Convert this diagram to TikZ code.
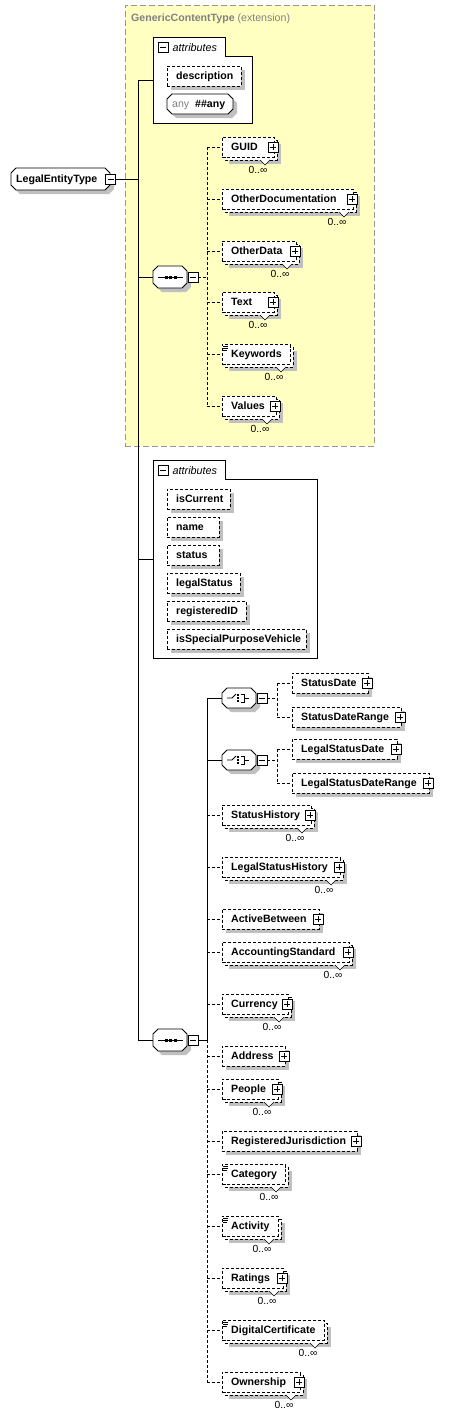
\documentclass[tikz,border=0pt]{standalone}
\usepackage{fontspec}
\setmainfont{Liberation Sans}
\definecolor{shdc}{RGB}{192,192,192}
\definecolor{ylw}{RGB}{255,255,194}
\definecolor{gbord}{RGB}{150,150,150}
\definecolor{gtxt}{RGB}{128,128,128}
\tikzset{
  dsh/.style={dash pattern=on 3pt off 2pt},
  conn/.style={line width=0.8pt, draw=black},
  dconn/.style={conn, dsh},
  ebox/.style={draw=black, line width=0.7pt, dsh, fill=white, minimum height=20pt, inner sep=0pt, outer sep=0pt, anchor=west},
  bkbox/.style={draw=black, line width=0.7pt, dsh, fill=white},
  etxt/.style={font=\fontsize{10.6}{12}\selectfont\bfseries, inner sep=0pt, anchor=base west},
  occlbl/.style={font=\fontsize{10.3}{12}\selectfont, inner sep=0pt, anchor=base},
  mbox/.style={draw=black, fill=white, line width=0.6pt, minimum size=10pt, inner sep=0pt, outer sep=0pt,
    path picture={\draw[line width=0.7pt] ([xshift=2pt]path picture bounding box.west) -- ([xshift=-2pt]path picture bounding box.east);}},
  pbox/.style={draw=black, fill=white, line width=0.6pt, minimum size=10pt, inner sep=0pt, outer sep=0pt,
    path picture={\draw[line width=0.7pt] ([xshift=2pt]path picture bounding box.west) -- ([xshift=-2pt]path picture bounding box.east) ([yshift=-2pt]path picture bounding box.north) -- ([yshift=2pt]path picture bounding box.south);}},
  ghost/.style={inner sep=0pt, outer sep=0pt, anchor=west},
}
% single element: name, x, y, width, label
\newcommand\elS[5]{%
  \fill[shdc] (#2+4,#3-6) rectangle (#2+#4+4,#3+14);
  \node[ebox, minimum width=#4] (#1) at (#2,#3) {};
  \node[etxt] (#1t) at (#2+9,#3+3.8) {#5};}
% multiple element
\newcommand\elM[5]{%
  \fill[shdc] (#2+7,#3-3) rectangle (#2+#4+7,#3+17);
  \path[bkbox] (#2+3,#3-7) rectangle (#2+#4+3,#3+13);
  \filldraw[fill=white, draw=black, line width=0.6pt] (#2+#4-14,#3+13) -- (#2+#4-9,#3+18) -- (#2+#4-4,#3+13);
  \node[ebox, minimum width=#4] (#1) at (#2,#3) {};
  \node[etxt] (#1t) at (#2+9,#3+3.8) {#5};
  \node[occlbl] (#1o) at (#2+#4-16,#3+26) {0..∞};}
\newcommand\plusof[1]{\node[pbox] (#1p) at ([xshift=-1pt]#1.east) {};}
\newcommand\sicon[1]{%
  \fill[white] ([shift={(0.5pt,-0.5pt)}]#1.north west) rectangle ([shift={(7pt,-7pt)}]#1.north west);
  \draw[line width=0.6pt] ([shift={(1pt,-2pt)}]#1.north west) -- ++(5pt,0pt)
    ([shift={(1pt,-4pt)}]#1.north west) -- ++(5pt,0pt)
    ([shift={(1pt,-6pt)}]#1.north west) -- ++(4pt,0pt);}
\newcommand\octshape[6]{%
  \path[#6] (#1+#5,#2-#4/2) -- (#1+#3-#5,#2-#4/2) -- (#1+#3,#2-#4/2+#5) -- (#1+#3,#2+#4/2-#5)
    -- (#1+#3-#5,#2+#4/2) -- (#1+#5,#2+#4/2) -- (#1,#2+#4/2-#5) -- (#1,#2-#4/2+#5) -- cycle;}
\newcommand\octnode[5]{%
  \octshape{#2}{#3}{#4}{#5}{5}{fill=shdc, xshift=4pt, yshift=-4pt}
  \octshape{#2}{#3}{#4}{#5}{5}{draw=black, fill=white, line width=0.8pt}
  \node[ghost, minimum width=#4, minimum height=#5] (#1) at (#2,#3) {};}
\newcommand\seqsym[1]{%
  \draw[line width=0.8pt] ([xshift=5pt]#1.west) -- ([xshift=-4pt]#1.east);
  \foreach \dx in {13,17.5,22} \fill ([shift={(\dx pt-1.5pt,-1.5pt)}]#1.west) rectangle ++(3pt,3pt);}
\newcommand\chsym[1]{%
  \draw[line width=0.8pt] ([xshift=5pt]#1.west) -- ([xshift=10pt]#1.west) -- ([shift={(14pt,4pt)}]#1.west);
  \foreach \dy in {-3,0,3} \fill ([shift={(15pt,\dy pt-1pt)}]#1.west) rectangle ++(2pt,2pt);
  \draw[line width=0.7pt] ([shift={(19pt,4pt)}]#1.west) -- ([shift={(22pt,4pt)}]#1.west) -- ([shift={(22pt,-4pt)}]#1.west) -- ([shift={(19pt,-4pt)}]#1.west)
    ([shift={(22pt,0pt)}]#1.west) -- ([shift={(27pt,0pt)}]#1.west);}
\newcommand\attrpanel[6]{%
  \path[draw=black, fill=white, line width=0.8pt] (#2,#3) -- (#4,#3) -- (#4,#3+19) -- (#5,#3+19) -- (#5,#6) -- (#2,#6) -- cycle;
  \node[mbox] (#1m) at (#2+10,#3+10.5) {};
  \node[anchor=base west, inner sep=0pt, font=\fontsize{10.8}{12}\selectfont\itshape] (#1t) at (#2+19.5,#3+14.3) {attributes};
  \coordinate (#1) at (#2,{(#3+#6)/2});}
\begin{document}
\begin{tikzpicture}[x=1pt,y=-1pt]
\useasboundingbox (0,0) rectangle (457,1416);
\fill[white] (0,0) rectangle (457,1416);
% extension area
\node[draw=gbord, fill=ylw, line width=0.8pt, dash pattern=on 6pt off 3pt, minimum width=249pt, minimum height=441pt, inner sep=0pt, outer sep=0pt, anchor=north west] (ext) at (125,5) {};
\node[anchor=base west, inner sep=0pt, text=gtxt, font=\fontsize{10.6}{12}\selectfont] (extt) at (131,21.3) {\textbf{GenericContentType} (extension)};
% root
\octnode{let}{11}{179}{99}{22}
\node[etxt] (lett) at (16,182.8) {LegalEntityType};
\node[mbox] (letm) at (110.5,179) {};
% attributes 1
\attrpanel{attrs1}{153}{37}{225}{252}{123}
\elS{desc}{167}{76}{74}{description}
\octnode{anyb}{167}{104}{66}{20}
\node[anchor=base west, inner sep=0pt, text=gtxt, font=\fontsize{10.6}{12}\selectfont] (anyt1) at (172,107.8) {any};
\node[etxt] (anyt2) at (195,107.8) {\#\#any};
% sequence 1
\octnode{seq1}{153}{277}{34}{22}
\seqsym{seq1}
\node[mbox] (seq1m) at (193,277) {};
\elM{guid}{222}{147}{52}{GUID}\plusof{guid}
\elM{odoc}{222}{199}{131}{OtherDocumentation}\plusof{odoc}
\elM{odata}{222}{251}{74}{OtherData}\plusof{odata}
\elM{txt}{222}{302}{52}{Text}\plusof{txt}
\elM{kw}{222}{354}{68}{Keywords}\sicon{kw}
\elM{vals}{222}{406}{54}{Values}\plusof{vals}
% attributes 2
\attrpanel{attrs2}{153}{460}{225}{317}{658}
\elS{iscur}{167}{499}{63}{isCurrent}
\elS{nm}{167}{527}{52}{name}
\elS{st}{167}{555}{52}{status}
\elS{lst}{167}{583}{73}{legalStatus}
\elS{rid}{167}{611}{79}{registeredID}
\elS{spv}{167}{639}{139}{isSpecialPurposeVehicle}
% sequence 2
\octnode{seq2}{153}{1040}{34}{22}
\seqsym{seq2}
\node[mbox] (seq2m) at (193,1040) {};
\octnode{ch1}{222}{698}{34}{20}
\chsym{ch1}
\node[mbox] (ch1m) at (262,698) {};
\elS{sd}{292}{683}{76}{StatusDate}\plusof{sd}
\elS{sdr}{292}{717}{109}{StatusDateRange}\plusof{sdr}
\octnode{ch2}{222}{760}{34}{20}
\chsym{ch2}
\node[mbox] (ch2m) at (262,760) {};
\elS{lsd}{292}{749}{105}{LegalStatusDate}\plusof{lsd}
\elS{lsdr}{292}{783}{137}{LegalStatusDateRange}\plusof{lsdr}
\elM{sh}{222}{815}{89}{StatusHistory}\plusof{sh}
\elM{lsh}{222}{867}{118}{LegalStatusHistory}\plusof{lsh}
\elS{ab}{222}{919}{97}{ActiveBetween}\plusof{ab}
\elM{accs}{222}{952}{127}{AccountingStandard}\plusof{accs}
\elM{cur}{222}{1004}{66}{Currency}\plusof{cur}
\elS{addr}{222}{1056}{63}{Address}\plusof{addr}
\elM{ppl}{222}{1089}{56}{People}\plusof{ppl}
\elS{rj}{222}{1141}{135}{RegisteredJurisdiction}\plusof{rj}
\elM{cat}{222}{1174}{63}{Category}\sicon{cat}
\elM{act}{222}{1226}{56}{Activity}\sicon{act}
\elM{rat}{222}{1278}{61}{Ratings}\plusof{rat}
\elM{dc}{222}{1330}{102}{DigitalCertificate}\sicon{dc}
\elM{own}{222}{1382}{78}{Ownership}\plusof{own}
% main connectors
\coordinate (vtop) at (138,80);
\coordinate (vbot) at (138,1040);
\draw[conn] (letm.east) -- (letm.east -| vtop);
\draw[conn] (vtop) -- (vbot);
\draw[conn] (vtop) -- (attrs1);
\draw[conn] (seq1.west -| vtop) -- (seq1.west);
\draw[conn] (attrs2 -| vtop) -- (attrs2);
\draw[conn] (vbot) -- (seq2.west);
% sequence 1 connectors
\coordinate (s1top) at (207,147);
\coordinate (s1bot) at (207,406);
\draw[dconn] (seq1m.east) -- (seq1m.east -| s1top);
\draw[dconn] (s1top) -- (s1bot);
\foreach \n in {guid,odoc,odata,txt,kw,vals} \draw[dconn] (\n.west -| s1top) -- (\n.west);
% sequence 2 connectors
\coordinate (s2top) at (207,698);
\coordinate (s2mid) at (207,1040);
\coordinate (s2bot) at (207,1382);
\draw[conn] (seq2m.east) -- (s2mid);
\draw[conn] (s2top) -- (s2mid);
\draw[dconn] (s2mid) -- (s2bot);
\draw[conn] (ch1.west -| s2top) -- (ch1.west);
\draw[conn] (ch2.west -| s2top) -- (ch2.west);
\foreach \n in {sh,lsh,ab,accs,cur,addr,ppl,rj,cat,act,rat,dc,own} \draw[dconn] (\n.west -| s2top) -- (\n.west);
% choice connectors
\coordinate (c1top) at (277,683);
\coordinate (c1bot) at (277,717);
\draw[dconn] (ch1m.east) -- (ch1m.east -| c1top);
\draw[dconn] (c1top) -- (c1bot);
\draw[dconn] (sd.west -| c1top) -- (sd.west);
\draw[dconn] (sdr.west -| c1top) -- (sdr.west);
\coordinate (c2top) at (277,749);
\coordinate (c2bot) at (277,783);
\draw[dconn] (ch2m.east) -- (ch2m.east -| c2top);
\draw[dconn] (c2top) -- (c2bot);
\draw[dconn] (lsd.west -| c2top) -- (lsd.west);
\draw[dconn] (lsdr.west -| c2top) -- (lsdr.west);
\end{tikzpicture}
\end{document}
